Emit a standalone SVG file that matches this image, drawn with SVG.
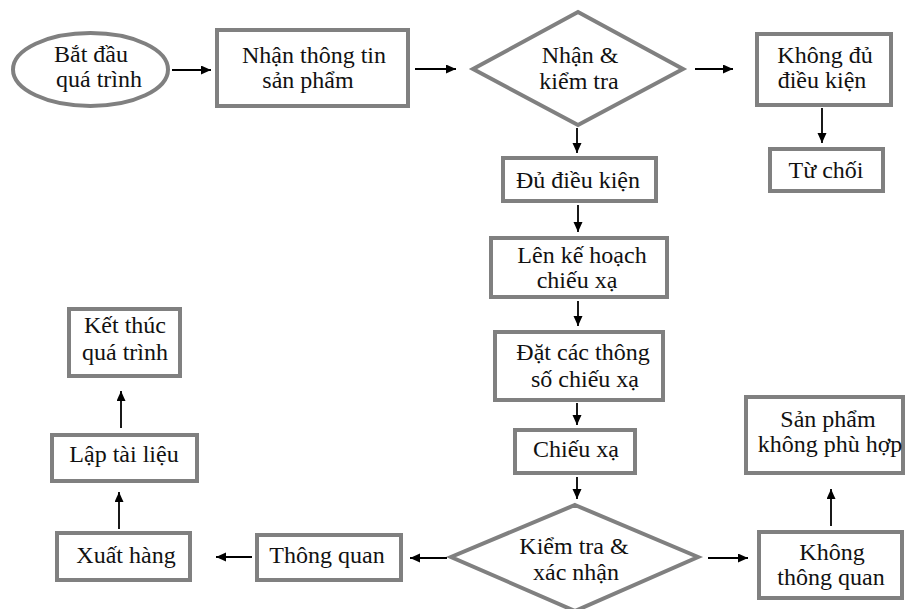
<svg xmlns="http://www.w3.org/2000/svg" width="906" height="609" viewBox="0 0 906 609">
<defs>
<marker id="ah" markerUnits="userSpaceOnUse" markerWidth="11" markerHeight="10" refX="10" refY="4.5" orient="auto">
<path d="M0,0 L10,4.5 L0,9 z" fill="#000"/>
</marker>
</defs>
<style>
.n{fill:#fff;stroke:#808080;stroke-width:4}
.t{font-family:"Liberation Serif","Times New Roman",serif;font-size:24px;fill:#111;text-anchor:middle}
.c line{stroke:#000;stroke-width:1.8;marker-end:url(#ah)}
</style>
<rect width="906" height="609" fill="#fff"/>
<g id="start"><ellipse class="n" cx="90.5" cy="69.5" rx="77.5" ry="36.5"/><text class="t"><tspan x="91" y="62">Bắt đầu</tspan><tspan x="99" y="87">quá trình</tspan></text></g>
<g id="nhan"><rect class="n" x="217" y="30" width="191" height="76"/><text class="t"><tspan x="314" y="63">Nhận thông tin</tspan><tspan x="308" y="88">sản phẩm</tspan></text></g>
<g id="kiemtra1"><polygon class="n" points="578,12 683,69 578,125 473,69"/><text class="t"><tspan x="580" y="63">Nhận &amp;</tspan><tspan x="579" y="89">kiểm tra</tspan></text></g>
<g id="khongdu"><rect class="n" x="757" y="34" width="134" height="71"/><text class="t"><tspan x="825" y="63">Không đủ</tspan><tspan x="822" y="88">điều kiện</tspan></text></g>
<g id="tuchoi"><rect class="n" x="770" y="149" width="113" height="42"/><text class="t" x="826" y="178">Từ chối</text></g>
<g id="du"><rect class="n" x="503" y="158" width="153" height="43"/><text class="t" x="578" y="188">Đủ điều kiện</text></g>
<g id="kehoach"><rect class="n" x="491" y="238" width="176" height="59"/><text class="t"><tspan x="582" y="263">Lên kế hoạch</tspan><tspan x="577" y="288">chiếu xạ</tspan></text></g>
<g id="thongso"><rect class="n" x="495" y="332" width="168" height="68"/><text class="t"><tspan x="583" y="360">Đặt các thông</tspan><tspan x="585" y="387">số chiếu xạ</tspan></text></g>
<g id="chieuxa"><rect class="n" x="515" y="430" width="120" height="43"/><text class="t" x="576" y="457">Chiếu xạ</text></g>
<g id="kiemtra2"><polygon class="n" points="575,505 698,557 575,611 451,557"/><text class="t"><tspan x="574" y="554">Kiểm tra &amp;</tspan><tspan x="576" y="580">xác nhận</tspan></text></g>
<g id="thongquan"><rect class="n" x="257" y="535" width="144" height="45"/><text class="t" x="327" y="563">Thông quan</text></g>
<g id="xuathang"><rect class="n" x="57" y="533" width="133" height="47"/><text class="t" x="126" y="563">Xuất hàng</text></g>
<g id="tailieu"><rect class="n" x="52" y="435" width="145" height="46"/><text class="t" x="124" y="462">Lập tài liệu</text></g>
<g id="ketthuc"><rect class="n" x="69" y="309" width="111" height="67"/><text class="t"><tspan x="125" y="333">Kết thúc</tspan><tspan x="125" y="360">quá trình</tspan></text></g>
<g id="khongphuhop"><rect class="n" x="746" y="397" width="157" height="76"/><text class="t"><tspan x="828" y="427">Sản phẩm</tspan><tspan x="830" y="452">không phù hợp</tspan></text></g>
<g id="khongthongquan"><rect class="n" x="759" y="532" width="143" height="66"/><text class="t"><tspan x="832" y="560">Không</tspan><tspan x="831" y="585">thông quan</tspan></text></g>
<g id="connectors" class="c">
<line x1="172" y1="70" x2="211" y2="70"/>
<line x1="415" y1="69" x2="456" y2="69"/>
<line x1="695" y1="69" x2="733" y2="69"/>
<line x1="822" y1="108" x2="822" y2="143"/>
<line x1="577" y1="128" x2="577" y2="153"/>
<line x1="578" y1="205" x2="578" y2="232"/>
<line x1="578" y1="301" x2="578" y2="326"/>
<line x1="577" y1="403" x2="577" y2="425"/>
<line x1="577" y1="477" x2="577" y2="499"/>
<line x1="447" y1="558" x2="410" y2="558"/>
<line x1="252" y1="557" x2="216" y2="557"/>
<line x1="119" y1="529" x2="119" y2="492"/>
<line x1="121" y1="428" x2="121" y2="391"/>
<line x1="708" y1="558" x2="748" y2="558"/>
<line x1="831" y1="526" x2="831" y2="489"/>
</g>
</svg>
